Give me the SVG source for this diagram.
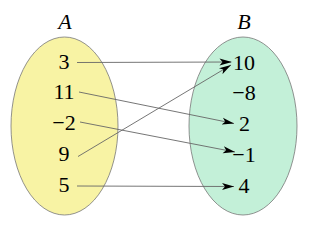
<svg xmlns="http://www.w3.org/2000/svg" width="309" height="227" viewBox="0 0 309 227">
<style>
text{text-anchor:middle;fill:#000}
.set{stroke:#777;stroke-width:0.8}
.c line{stroke:#666;stroke-width:0.9;fill:none;marker-end:url(#ah)}
</style>
<defs>
<marker id="ah" viewBox="0 0 12 8" refX="12" refY="4" markerWidth="12" markerHeight="8" markerUnits="userSpaceOnUse" orient="auto">
<path d="M0,0.5 L12,4 L0,7.5 L3,4 z" fill="#000"/>
</marker>
</defs>
<g id="setA" font-family="Liberation Serif, Times New Roman, serif" font-size="22">
<ellipse class="set" cx="64.5" cy="126" rx="53.5" ry="89" fill="#f8f3a4"/>
<text x="65" y="29" font-style="italic">A</text>
<text x="64" y="69">3</text>
<text x="64" y="99">11</text>
<text x="64" y="130">−2</text>
<text x="64" y="161">9</text>
<text x="64" y="192">5</text>
</g>
<g id="setB" font-family="Liberation Serif, Times New Roman, serif" font-size="22">
<ellipse class="set" cx="243" cy="126" rx="54" ry="89" fill="#c3f0d8"/>
<text x="244" y="29" font-style="italic">B</text>
<text x="244" y="70">10</text>
<text x="244" y="100">−8</text>
<text x="244.5" y="131">2</text>
<text x="244" y="162">−1</text>
<text x="244" y="193">4</text>
</g>
<g class="c" id="connectors">
<line x1="77" y1="62.5" x2="231.5" y2="62"/>
<line x1="79" y1="92" x2="234" y2="123.5"/>
<line x1="80" y1="122" x2="235" y2="152"/>
<line x1="78" y1="156.5" x2="231" y2="65"/>
<line x1="77" y1="186" x2="234" y2="186.5"/>
</g>
</svg>
